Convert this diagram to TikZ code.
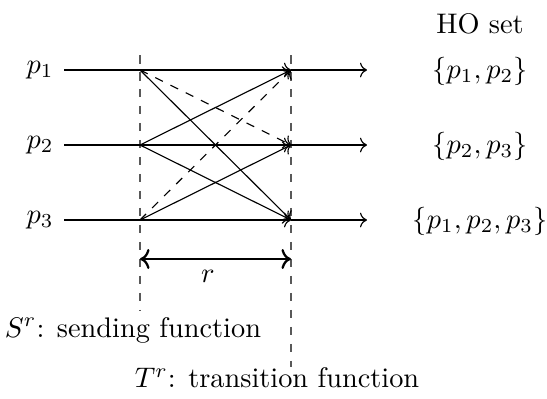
\documentclass[tikz,border=0pt]{standalone}
\usetikzlibrary{arrows.meta}
\begin{document}
\begin{tikzpicture}[x=0.353pt,y=-0.353pt,
  proc/.style={inner sep=1pt},
  msg/.style={->},
  lost/.style={->,dashed},
  phase/.style={dashed,black!65},
  span/.style={<->,thick}]
\useasboundingbox (0,0) rectangle (547,398);
% process labels
\node[proc] (p1) at (40,70) {$p_1$};
\node[proc] (p2) at (40,145) {$p_2$};
\node[proc] (p3) at (40,220) {$p_3$};
% coordinates
\foreach \i/\y in {1/70,2/145,3/220}{
  \coordinate (a\i) at (64,\y);
  \coordinate (s\i) at (140,\y);
  \coordinate (t\i) at (291,\y);
  \coordinate (e\i) at (367,\y);
}
% phase lines
\coordinate (stop) at (140,55);
\coordinate (sbot) at (140,311);
\coordinate (ttop) at (291,55);
\coordinate (tbot) at (291,367);
\draw[phase] (stop) -- (sbot);
\draw[phase] (ttop) -- (tbot);
% horizontal timelines
\foreach \i in {1,2,3}{
  \draw[msg] (a\i) -- (t\i);
  \draw[msg] (t\i) -- (e\i);
}
% messages
\draw[msg] (s1) -- (t3);
\draw[lost] (s1) -- (t2);
\draw[msg] (s2) -- (t1);
\draw[msg] (s2) -- (t3);
\draw[msg] (s3) -- (t2);
\draw[lost] (s3) -- (t1);
% round span
\coordinate (rl) at (140,259);
\coordinate (rr) at (291,259);
\draw[span] (rl) -- (rr);
\node (r) at (208,276) {$r$};
% function labels
\node (Sl) at (133,330) {$S^r$: sending function};
\node (Tl) at (277,378) {$T^r$: transition function};
% HO sets
\node[inner sep=1pt] (ho) at (480,24) {HO set};
\node[inner sep=1pt] (h1) at (480,71) {$\{p_1,p_2\}$};
\node[inner sep=1pt] (h2) at (480,146) {$\{p_2,p_3\}$};
\node[inner sep=1pt] (h3) at (480,221) {$\{p_1,p_2,p_3\}$};
\end{tikzpicture}
\end{document}
